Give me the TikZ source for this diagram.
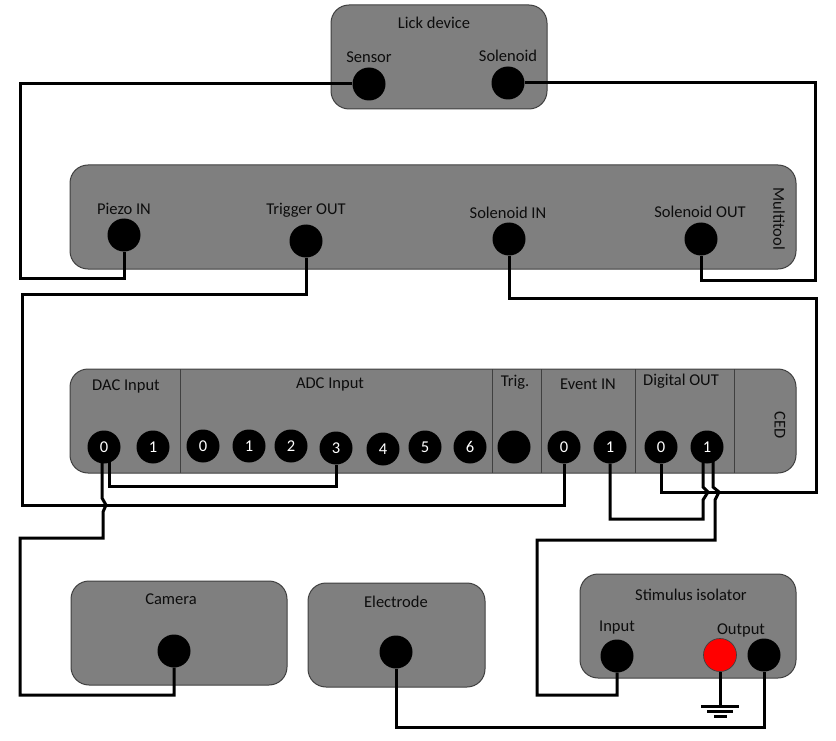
\documentclass[tikz,border=0pt]{standalone}
\usepackage{fontspec}
\setmainfont{Carlito}
\usepackage{xcolor}
\usetikzlibrary{calc}
\definecolor{boxGray}{HTML}{7F7F7F}
\definecolor{edgeGray}{HTML}{404040}

\begin{document}
\begin{tikzpicture}[
    x=1pt, y=-1pt,
    devbox/.style={rectangle, rounded corners=18pt, draw=edgeGray, line width=1pt, fill=boxGray, inner sep=0pt},
    sock/.style={circle, fill=black, minimum size=33pt, inner sep=0pt, font=\fontsize{16.5}{18}\selectfont, text=white},
    lbl/.style={font=\fontsize{16.5}{18}\selectfont, text=black!95, inner sep=0pt},
    wire/.style={line width=3pt, black, line join=miter},
    divider/.style={line width=1pt, edgeGray}
  ]
  \useasboundingbox (0,0) rectangle (836,741);

  % boxes
  \node[devbox, minimum width=216pt, minimum height=104pt] (lick) at (439,57) {};
  \node[devbox, minimum width=726pt, minimum height=104pt] (multi) at (433,217) {};
  \node[devbox, minimum width=726pt, minimum height=104pt] (ced) at (433,421) {};
  \node[devbox, minimum width=216pt, minimum height=104pt] (cam) at (179,633) {};
  \node[devbox, minimum width=177pt, minimum height=104pt] (elec) at (396.5,635) {};
  \node[devbox, minimum width=216pt, minimum height=104pt] (stim) at (688,626) {};

  \foreach \xd in {180,492,541,635,734}
    \draw[divider] (\xd,369) -- (\xd,473);

  % labels
  \node[lbl] (licklbl) at (434,23) {Lick device};
  \node[lbl] (senslbl) at (369,57) {Sensor};
  \node[lbl] (sollbl) at (508,56) {Solenoid};
  \node[lbl] (pielbl) at (124,209) {Piezo IN};
  \node[lbl] (triglbl) at (306,210) {Trigger OUT};
  \node[lbl] (sinlbl) at (508,213) {Solenoid IN};
  \node[lbl] (soutlbl) at (700,212) {Solenoid OUT};
  \node[lbl, rotate=-90] (multilbl) at (779,219) {Multitool};
  \node[lbl] (daclbl) at (126,386) {DAC Input};
  \node[lbl] (adclbl) at (330,384) {ADC Input};
  \node[lbl] (trlbl) at (515,382) {Trig.};
  \node[lbl] (evlbl) at (588,384) {Event IN};
  \node[lbl] (diglbl) at (681,381) {Digital OUT};
  \node[lbl, rotate=-90] (cedlbl) at (780,425) {CED};
  \node[lbl] (camlbl) at (171,599) {Camera};
  \node[lbl] (eleclbl) at (396,602) {Electrode};
  \node[lbl] (stimlbl) at (691,595) {Stimulus isolator};
  \node[lbl] (inlbl) at (617,628) {Input};
  \node[lbl] (outlbl) at (741,630) {Output};

  % sockets
  \node[sock] (sens) at (369,84) {};
  \node[sock] (sol) at (508,83) {};
  \node[sock] (pie) at (124,235) {};
  \node[sock] (trg) at (306,241) {};
  \node[sock] (sin) at (509,239) {};
  \node[sock] (sout) at (701,239) {};
  \node[sock] (dacz) at (104,447) {0};
  \node[sock] (daco) at (153,447) {1};
  \node[sock] (adcz) at (203,446) {0};
  \node[sock] (adco) at (249,446) {1};
  \node[sock] (adct) at (291,446) {2};
  \node[sock] (adcd) at (336,448) {3};
  \node[sock] (adcf) at (383,449) {4};
  \node[sock] (adcv) at (425,447) {5};
  \node[sock] (adcs) at (470,447) {6};
  \node[sock] (tr) at (514,447) {};
  \node[sock] (evz) at (564,447) {0};
  \node[sock] (evo) at (610,447) {1};
  \node[sock] (digz) at (661,447) {0};
  \node[sock] (digo) at (707,447) {1};
  \node[sock] (camin) at (174,651) {};
  \node[sock] (elin) at (396,652) {};
  \node[sock] (stin) at (617,656) {};
  \node[sock, draw=edgeGray, line width=0.7pt, fill=red] (stred) at (720,655) {};
  \node[sock] (stout) at (764,655) {};

  % wires
  \draw[wire] (sens.west) -- (20,84) -- (20,278) -- (124,278) -- (pie.south);
  \draw[wire] (sol.east) -- (815,83) -- (815,280) -- (701,280) -- (sout.south);
  \draw[wire] (trg.south) -- (306,294) -- (22,294) -- (22,505) -- (564,505) -- (evz.south);
  \draw[wire] (sin.south) -- (509,298) -- (816,298) -- (816,492) -- (661,492) -- (digz.south);
  \draw[wire] ($(dacz.south)+(5,-4)$) -- (109,486) -- (336,486) -- (adcd.south);
  \draw[wire] ($(dacz.south)+(-2,-4)$) -- (102,498) -- (106,505) -- (103,512) -- (103,538) -- (20,538) -- (20,695) -- (174,695) -- (camin.south);
  \draw[wire] (evo.south) -- (610,519) -- (703,519) -- (703,500) -- (708,492) -- (703,487) -- ($(digo.south)+(-4,-4)$);
  \draw[wire] ($(digo.south)+(6,-4)$) -- (713,487) -- (719,492) -- (715,500) -- (715,540) -- (537,540) -- (537,695) -- (617,695) -- (stin.south);
  \draw[wire] (elin.south) -- (396,727) -- (764,727) -- (stout.south);

  % ground
  \coordinate (gnd) at (720,706);
  \draw[wire] (stred.south) -- (gnd);
  \draw[wire] ($(gnd)+(-19,0)$) -- ($(gnd)+(19,0)$);
  \draw[wire] ($(gnd)+(-13,5)$) -- ($(gnd)+(13,5)$);
  \draw[wire] ($(gnd)+(-6,10)$) -- ($(gnd)+(7,10)$);
\end{tikzpicture}
\end{document}
